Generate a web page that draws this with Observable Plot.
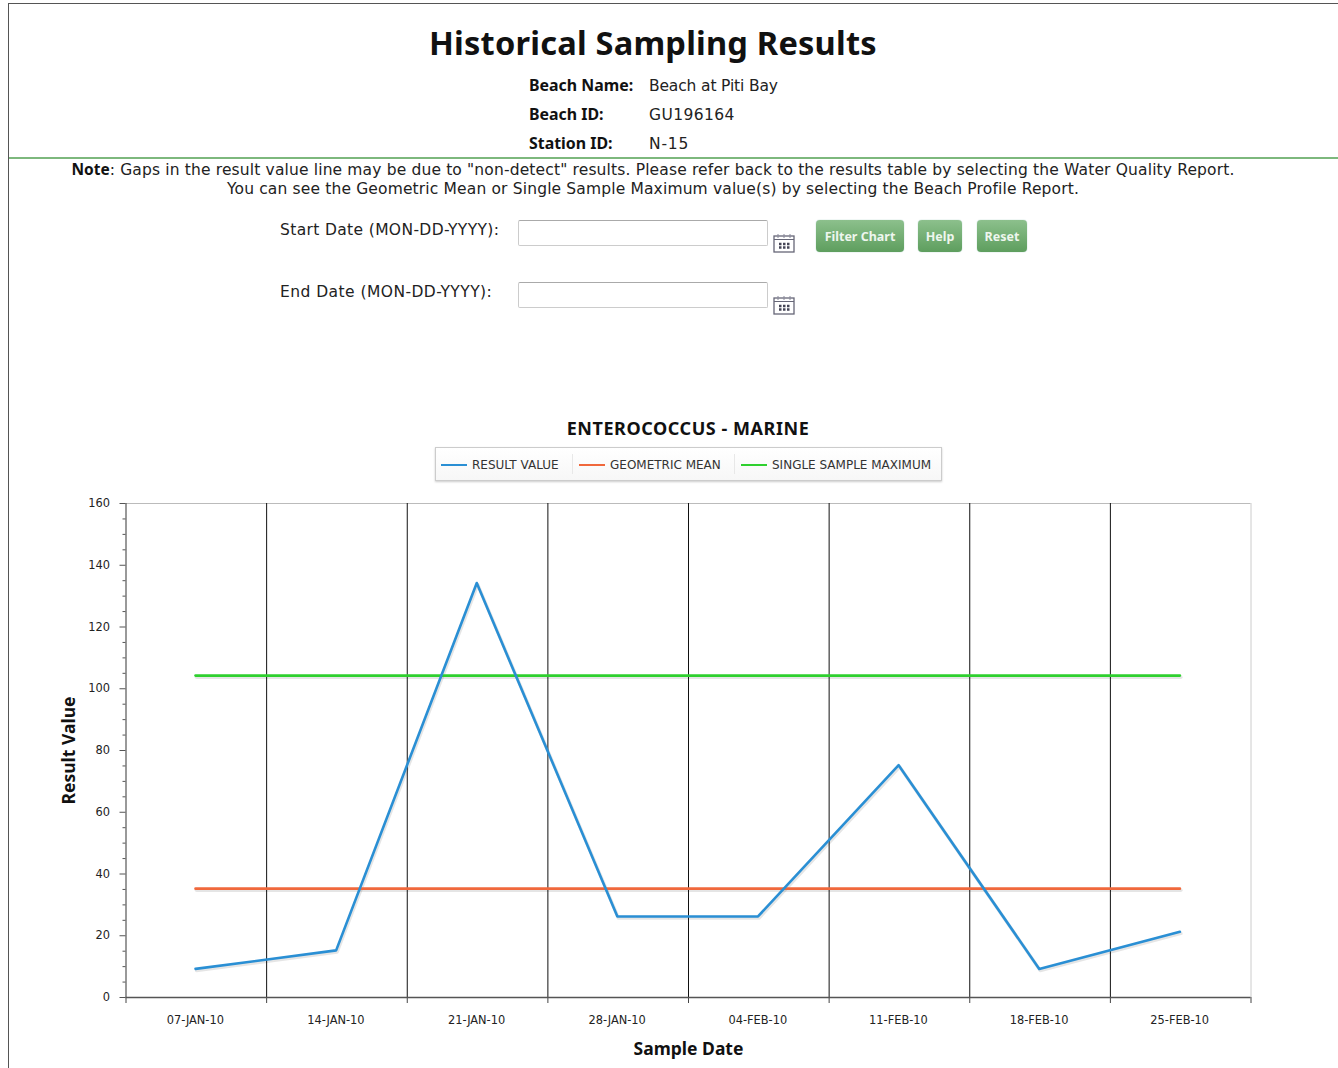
<!DOCTYPE html>
<html>
<head>
<meta charset="utf-8">
<script src="https://cdn.jsdelivr.net/npm/d3@7"></script>
<script src="https://cdn.jsdelivr.net/npm/@observablehq/plot@0.6"></script>
<style>
html,body{margin:0;padding:0;background:#fff;overflow:hidden;}
#page{position:relative;width:1338px;height:1068px;overflow:hidden;font-family:"DejaVu Sans",sans-serif;color:#222;}
#page>*{position:absolute;}
.t{white-space:nowrap;font-size:15.5px;line-height:18px;letter-spacing:.15px;}
b{color:#111;font-family:"Noto Sans",sans-serif;letter-spacing:0;}
.inp{width:248px;height:24px;border:1px solid #ccc;border-top-color:#aaa;border-radius:2px;background:#fff;left:518px;}
.btn{top:220px;height:32px;line-height:33px;text-align:center;color:#eef6ee;font-family:"Noto Sans",sans-serif;font-weight:bold;font-size:12.5px;border-radius:4px;background:linear-gradient(#8cc08c,#5e9e5e);box-shadow:0 0 1px #6a9;}
.cal{left:773px;}
#legend{left:435px;top:447px;width:505px;height:32px;border:1px solid #ccc;box-shadow:0 1px 2px #ccc;background:linear-gradient(#fff,#f7f7f7);}
#legend div{position:absolute;top:0;white-space:nowrap;font-size:12px;line-height:34px;color:#333;}
#legend i{position:absolute;top:16px;height:1.5px;width:26px;}
#legend u{position:absolute;top:6px;height:20px;width:1px;background:#e8e8e8;}
#chart{left:0;top:490px;}
</style>
</head>
<body>
<div id="page">
  <div style="left:8px;top:3px;width:1px;height:1065px;background:#555"></div>
  <div style="left:8px;top:3px;width:1330px;height:1px;background:#555"></div>
  <div style="left:9px;top:157px;width:1329px;height:2px;background:#7db87d"></div>
  <div id="title" class="t" style="left:429px;top:23px;font-family:'Noto Sans',sans-serif;font-size:32.6px;line-height:40px;font-weight:bold;color:#111;letter-spacing:.2px;"></div>
  <div class="t" style="left:529px;top:76px;font-size:15.9px;"><b id="l1"></b></div>
  <div class="t" style="left:649px;top:77px;letter-spacing:-.15px;" id="v1"></div>
  <div class="t" style="left:529px;top:105px;font-size:15.9px;"><b id="l2"></b></div>
  <div class="t" style="left:649px;top:106px;letter-spacing:.4px;" id="v2"></div>
  <div class="t" style="left:529px;top:134px;font-size:15.9px;"><b id="l3"></b></div>
  <div class="t" style="left:649px;top:135px;letter-spacing:.8px;" id="v3"></div>
  <div class="t" style="left:0;width:1306px;text-align:center;top:160px;"><b>Note</b>: <span id="n1"></span></div>
  <div class="t" style="left:0;width:1306px;text-align:center;top:180px;" id="n2"></div>
  <div class="t" style="left:280px;top:221px;letter-spacing:.36px;" id="sd"></div>
  <div class="t" style="left:280px;top:283px;letter-spacing:.45px;" id="ed"></div>
  <div class="inp" style="top:220px;"></div>
  <div class="inp" style="top:282px;"></div>
  <svg class="cal" style="top:233px" width="23" height="20" viewBox="0 0 23 20"><rect x="1" y="3" width="20" height="16" fill="#fff" stroke="#667" stroke-width="1.3"/><line x1="1" y1="6.5" x2="21" y2="6.5" stroke="#667"/><path d="M5 1v4M11 1v4M17 1v4" stroke="#889"/><path d="M6 11h2.5M10 11h2.5M14 11h2.5M6 14.500h2.500M10 14.500h2.500M14 14.500h2.500" stroke="#445" stroke-width="2.500"/></svg>
  <svg class="cal" style="top:295px" width="23" height="20" viewBox="0 0 23 20"><rect x="1" y="3" width="20" height="16" fill="#fff" stroke="#667" stroke-width="1.3"/><line x1="1" y1="6.5" x2="21" y2="6.5" stroke="#667"/><path d="M5 1v4M11 1v4M17 1v4" stroke="#889"/><path d="M6 11h2.5M10 11h2.5M14 11h2.5M6 14.500h2.500M10 14.500h2.500M14 14.500h2.500" stroke="#445" stroke-width="2.500"/></svg>
  <div class="btn" style="left:816px;width:88px;">Filter Chart</div>
  <div class="btn" style="left:918px;width:44px;">Help</div>
  <div class="btn" style="left:977px;width:50px;">Reset</div>
  <div id="chartTitle" class="t" style="left:0;width:1376px;text-align:center;top:419px;font-family:'Noto Sans',sans-serif;font-size:18px;font-weight:bold;color:#111;letter-spacing:.55px;"></div>
  <div id="legend"></div>
  <div id="chart"></div>
</div>
<script>
const sampleDates = ["2010-01-07","2010-01-14","2010-01-21","2010-01-28","2010-02-04","2010-02-11","2010-02-18","2010-02-25"];
const resultValues = [9,15,134,26,26,75,9,21];
const geometricMean = 35;
const singleSampleMaximum = 104;
const bandEdges = ["2010-01-03T12:00Z","2010-01-10T12:00Z","2010-01-17T12:00Z","2010-01-24T12:00Z","2010-01-31T12:00Z","2010-02-07T12:00Z","2010-02-14T12:00Z","2010-02-21T12:00Z","2010-02-28T12:00Z"];
const yMajor = [0,20,40,60,80,100,120,140,160];
const yMinor = [5,10,15,25,30,35,45,50,55,65,70,75,85,90,95,105,110,115,125,130,135,145,150,155];
const seriesNames = ["RESULT VALUE","GEOMETRIC MEAN","SINGLE SAMPLE MAXIMUM"];
const seriesColors = ["#2a8fd4","#f0683c","#2fd02f"];

const texts = {
  title:"Historical Sampling Results", l1:"Beach Name:", v1:"Beach at Piti Bay", l2:"Beach ID:", v2:"GU196164",
  l3:"Station ID:", v3:"N-15",
  n1:'Gaps in the result value line may be due to "non-detect" results. Please refer back to the results table by selecting the Water Quality Report.',
  n2:"You can see the Geometric Mean or Single Sample Maximum value(s) by selecting the Beach Profile Report.",
  sd:"Start Date (MON-DD-YYYY):", ed:"End Date (MON-DD-YYYY):", chartTitle:"ENTEROCOCCUS - MARINE"
};
for (const k in texts) document.getElementById(k).textContent = texts[k];

const legendPos = [[5,36],[143,174],[305,336]];
const legend = document.getElementById("legend");
seriesNames.forEach((n,i)=>{
  const sw=document.createElement("i"); sw.style.left=legendPos[i][0]+"px"; sw.style.background=seriesColors[i]; legend.appendChild(sw);
  const tx=document.createElement("div"); tx.style.left=legendPos[i][1]+"px"; tx.textContent=n; legend.appendChild(tx);
  if(i){const s=document.createElement("u"); s.style.left=(legendPos[i][0]-7)+"px"; legend.appendChild(s);}
});

const dates = sampleDates.map(d=>new Date(d));
const edges = bandEdges.map(d=>new Date(d));
const rows = dates.map((d,i)=>({d,v:resultValues[i]}));
const gm = dates.map(d=>({d,v:geometricMean}));
const ssm = dates.map(d=>({d,v:singleSampleMaximum}));
const fmt = d=>d3.utcFormat("%d-%b-%y")(d).toUpperCase();
const shadow = {x:"d",y:"v",stroke:"#000",strokeOpacity:0.1,strokeWidth:3.4,dx:0.2,dy:0.8};
const main = c=>({x:"d",y:"v",stroke:c,strokeWidth:2.6,dx:-0.8,dy:-0.8});

const plot = Plot.plot({
  width:1338, height:578,
  marginTop:13, marginBottom:71, marginLeft:125.5, marginRight:87.5,
  style:{fontFamily:"'DejaVu Sans',sans-serif",fontSize:"11.4px",color:"#222",background:"transparent"},
  x:{type:"utc",domain:[edges[0],edges[8]]},
  y:{type:"linear",domain:[0,160]},
  marks:[
    Plot.ruleY([160],{stroke:"#bbb",strokeWidth:1}),
    Plot.ruleX([edges[8]],{stroke:"#ccc",strokeWidth:1}),
    Plot.ruleX(edges.slice(1,8),{stroke:"#111",strokeWidth:1}),
    Plot.ruleX(edges,{y1:0,y2:0,insetBottom:-6,stroke:"#444",strokeWidth:1}),
    Plot.ruleX([edges[0]],{stroke:"#555",strokeWidth:1.2}),
    Plot.axisY({ticks:yMajor,tickSize:6,tickPadding:10,stroke:"#555",label:"Result Value",labelAnchor:"center",labelArrow:"none",labelOffset:63,fontSize:11.4}),
    Plot.axisY({ticks:yMinor,tickSize:3,tickFormat:()=>"",label:null,stroke:"#555"}),
    Plot.axisX({ticks:dates,tickSize:0,tickPadding:18,tickFormat:fmt,label:"Sample Date",labelAnchor:"center",labelArrow:"none",labelOffset:57,fontSize:11.4,dx:-1}),
    Plot.ruleY([0],{stroke:"#555",strokeWidth:1.5}),
    Plot.line(ssm,shadow),
    Plot.line(gm,shadow),
    Plot.line(rows,shadow),
    Plot.line(ssm,main(seriesColors[2])),
    Plot.line(gm,main(seriesColors[1])),
    Plot.line(rows,main(seriesColors[0]))
  ]
});
document.getElementById("chart").appendChild(plot);
plot.querySelectorAll("text").forEach(t=>{
  if(t.textContent==="Result Value"||t.textContent==="Sample Date"){t.style.fontWeight="bold";t.style.fontSize="17.5px";t.style.fontFamily="'Noto Sans',sans-serif";t.style.fill="#111";}
});
</script>
</body>
</html>
